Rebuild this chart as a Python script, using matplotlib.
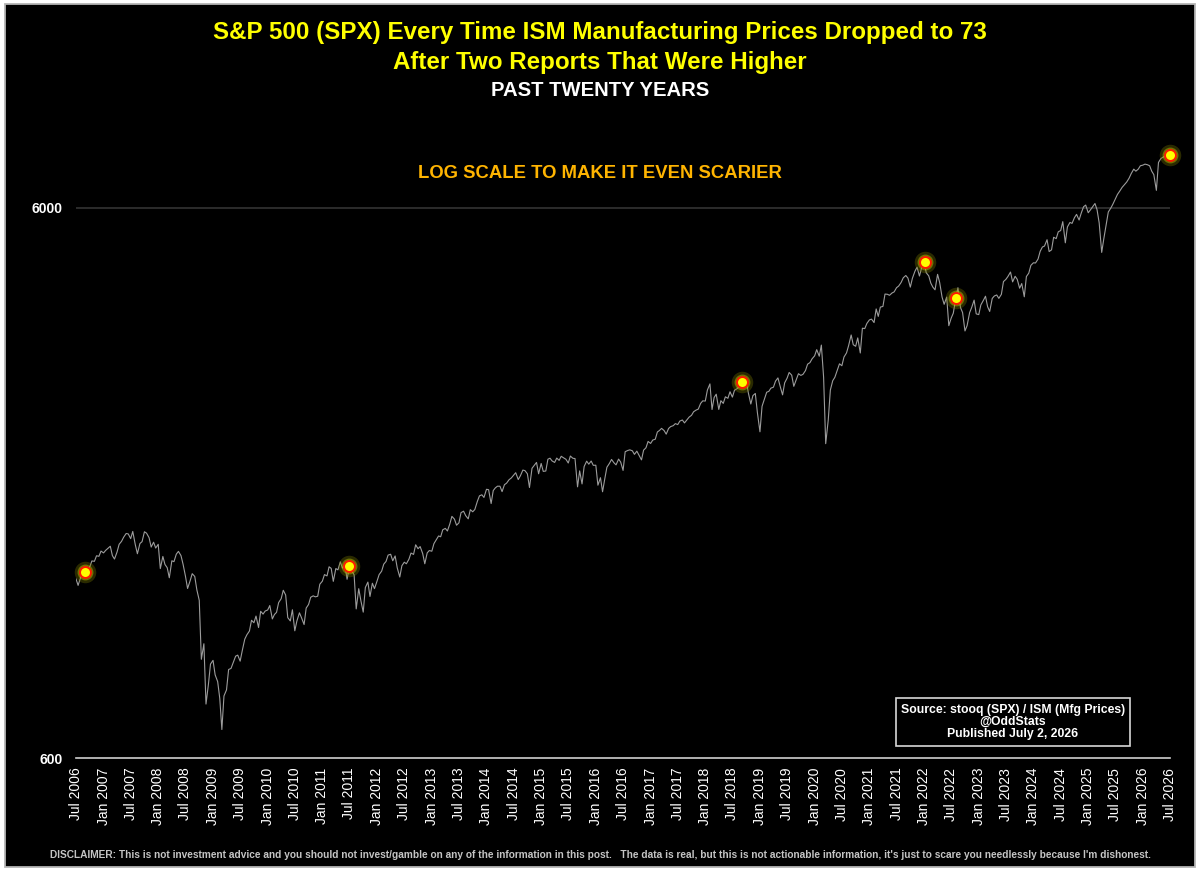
import matplotlib
matplotlib.use("Agg")
import matplotlib.pyplot as plt
from matplotlib.patches import Rectangle
from matplotlib.ticker import NullLocator
import pandas as pd

# S&P 500 levels, two per month (1st and mid-month)
spx_2006 = [1270, 1236, 1278, 1302, 1305, 1320, 1336, 1369, 1367, 1399, 1396, 1427]
spx_2007 = [1416, 1431, 1445, 1456, 1400, 1380, 1421, 1468, 1486, 1512, 1536, 1533,
            1503, 1549, 1465, 1411, 1473, 1484, 1547, 1538, 1509, 1451, 1481, 1445]
spx_2008 = [1468, 1326, 1395, 1349, 1331, 1276, 1370, 1365, 1409, 1425, 1400, 1350,
            1284, 1220, 1260, 1298, 1283, 1213, 1161, 907, 968, 752, 816, 889]
spx_2009 = [903, 850, 826, 770, 676, 778, 798, 869, 873, 893, 919, 923,
            900, 940, 987, 1005, 1021, 1068, 1057, 1087, 1036, 1109, 1096, 1110]
spx_2010 = [1115, 1136, 1074, 1094, 1104, 1150, 1169, 1211, 1187, 1080, 1065, 1116,
            1022, 1065, 1102, 1079, 1049, 1124, 1141, 1176, 1183, 1178, 1181, 1242]
spx_2011 = [1258, 1293, 1286, 1336, 1327, 1257, 1326, 1319, 1364, 1329, 1345, 1268,
            1339, 1316, 1292, 1120, 1219, 1160, 1105, 1225, 1253, 1180, 1247, 1219]
spx_2012 = [1258, 1293, 1312, 1351, 1366, 1403, 1408, 1370, 1398, 1330, 1280, 1342,
            1362, 1353, 1379, 1415, 1407, 1465, 1441, 1454, 1412, 1353, 1416, 1430]
spx_2013 = [1426, 1472, 1498, 1520, 1515, 1560, 1569, 1552, 1598, 1650, 1631, 1590,
            1606, 1676, 1686, 1655, 1633, 1697, 1682, 1698, 1757, 1798, 1806, 1786]
spx_2014 = [1848, 1845, 1741, 1838, 1859, 1872, 1872, 1830, 1884, 1896, 1924, 1937,
            1960, 1981, 1925, 1955, 2003, 1998, 1972, 1862, 2018, 2041, 2068, 1972]
spx_2015 = [2059, 1992, 1995, 2096, 2105, 2081, 2068, 2106, 2086, 2122, 2107, 2096,
            2063, 2124, 2104, 2102, 1867, 1996, 1890, 2033, 2079, 2053, 2080, 2043]
spx_2016 = [2044, 1880, 1940, 1829, 1932, 2027, 2060, 2094, 2065, 2047, 2097, 2071,
            2000, 2163, 2174, 2180, 2171, 2139, 2168, 2133, 2090, 2177, 2199, 2258]
spx_2017 = [2239, 2271, 2279, 2349, 2364, 2385, 2363, 2328, 2384, 2403, 2412, 2433,
            2423, 2459, 2470, 2440, 2472, 2500, 2519, 2557, 2575, 2585, 2648, 2676]
spx_2018 = [2674, 2800, 2873, 2581, 2714, 2752, 2582, 2678, 2648, 2722, 2705, 2780,
            2718, 2798, 2816, 2840, 2902, 2905, 2924, 2770, 2641, 2736, 2760, 2546]
spx_2019 = [2351, 2616, 2704, 2775, 2784, 2822, 2834, 2907, 2946, 2850, 2744, 2886,
            2942, 3014, 2980, 2844, 2926, 2998, 2977, 2990, 3038, 3120, 3141, 3191]
spx_2020 = [3231, 3316, 3226, 3380, 2954, 2237, 2470, 2800, 2912, 2953, 3044, 3125,
            3100, 3215, 3271, 3373, 3526, 3385, 3363, 3483, 3270, 3627, 3622, 3701]
spx_2021 = [3756, 3768, 3714, 3932, 3811, 3963, 3973, 4185, 4181, 4163, 4204, 4223,
            4298, 4327, 4395, 4480, 4523, 4474, 4308, 4471, 4605, 4683, 4513, 4668]
spx_2022 = [4796, 4577, 4516, 4380, 4306, 4260, 4545, 4392, 4132, 4009, 4132, 3666,
            3785, 3863, 4118, 4297, 3955, 3873, 3586, 3666, 3872, 3958, 4080, 3852]
spx_2023 = [3840, 3999, 4077, 4147, 3970, 3891, 4109, 4151, 4169, 4110, 4180, 4409,
            4450, 4505, 4589, 4404, 4508, 4450, 4288, 4373, 4137, 4503, 4568, 4719]
spx_2024 = [4770, 4766, 4846, 5005, 5096, 5117, 5254, 5000, 5036, 5308, 5278, 5431,
            5460, 5667, 5186, 5543, 5648, 5626, 5762, 5842, 5705, 5870, 6032, 6074]
spx_2025 = [5882, 5950, 6041, 6114, 5955, 5640, 4982, 5275, 5600, 5900, 6000, 6100,
            6230, 6350, 6450, 6540, 6620, 6690, 6800, 6930, 7060, 7000, 7060, 7160]
spx_2026 = [7180, 7210, 7190, 7160, 7000, 6900, 6460, 7260, 7380, 7420, 7460, 7480, 7500]

# ISM prices signal dates (dots)
signal_dates = ["2006-09-01", "2011-07-01", "2018-09-04", "2022-01-04", "2022-08-01", "2026-06-28"]
signal_values = [1305, 1339, 2896, 4793, 4118, 7490]

tick_dates = pd.date_range("2006-07-01", "2026-07-01", freq="6MS")
tick_labels = [d.strftime("%b %Y") for d in tick_dates]

TITLE_1 = "S&P 500 (SPX) Every Time ISM Manufacturing Prices Dropped to 73"
TITLE_2 = "After Two Reports That Were Higher"
SUBTITLE = "PAST TWENTY YEARS"
NOTE = "LOG SCALE TO MAKE IT EVEN SCARIER"
SOURCE = "Source: stooq (SPX) / ISM (Mfg Prices)\n@OddStats\nPublished July 2, 2026"
DISCLAIMER = ("DISCLAIMER: This is not investment advice and you should not invest/gamble on any of the "
              "information in this post.   The data is real, but this is not actionable information, "
              "it's just to scare you needlessly because I'm dishonest.")

plt.rcParams["font.family"] = ["Liberation Sans", "DejaVu Sans"]


def main() -> None:
    values = (spx_2006 + spx_2007 + spx_2008 + spx_2009 + spx_2010 + spx_2011 + spx_2012
              + spx_2013 + spx_2014 + spx_2015 + spx_2016 + spx_2017 + spx_2018 + spx_2019
              + spx_2020 + spx_2021 + spx_2022 + spx_2023 + spx_2024 + spx_2025 + spx_2026)
    dates = pd.date_range("2006-07-01", periods=len(values), freq="SMS")

    fig = plt.figure(figsize=(12, 8.71), dpi=100, facecolor="white")
    fig.patches.append(Rectangle((4.5 / 1200, 4.5 / 871), 1190 / 1200, 862 / 871,
                                 transform=fig.transFigure, facecolor="black",
                                 edgecolor="#b4b4b4", lw=1.3, zorder=-10))

    ax = fig.add_axes([76 / 1200, 1 - 758 / 871, 1094 / 1200, 618 / 871])
    ax.set_facecolor("none")
    ax.plot(dates, values, color="#9c9c9c", lw=0.8)

    sd = pd.to_datetime(signal_dates)
    ax.scatter(sd, signal_values, s=240, color="#7a7a00", alpha=0.35, lw=0, zorder=3, clip_on=False)
    ax.scatter(sd, signal_values, s=130, color="#c8c800", alpha=0.45, lw=0, zorder=3, clip_on=False)
    ax.scatter(sd, signal_values, s=62, facecolor="#ffff00", edgecolor="#ff1a00",
               lw=1.4, zorder=4, clip_on=False)

    ax.set_yscale("log")
    ax.set_ylim(600, 600 * 10 ** (618 / 550))
    ax.set_yticks([600, 6000])
    ax.set_yticklabels(["600", "6000"], color="white", fontweight="bold", fontsize=10)
    ax.yaxis.set_minor_locator(NullLocator())
    ax.axhline(6000, color="#333333", lw=1.2, zorder=1)

    ax.set_xlim(tick_dates[0], tick_dates[-1])
    ax.set_xticks(tick_dates)
    ax.set_xticklabels(tick_labels, rotation=90, color="white", fontsize=10)
    ax.tick_params(axis="x", length=0, pad=7)
    ax.tick_params(axis="y", length=0, pad=9.4)

    for side in ["top", "right", "left"]:
        ax.spines[side].set_visible(False)
    ax.spines["bottom"].set_color("#cfcfcf")
    ax.spines["bottom"].set_linewidth(1.2)

    fig.text(0.5, 1 - 33 / 871, TITLE_1, ha="center", va="center", color="#ffff00",
             fontsize=17.4, fontweight="bold")
    fig.text(0.5, 1 - 62 / 871, TITLE_2, ha="center", va="center", color="#ffff00",
             fontsize=17.4, fontweight="bold")
    fig.text(0.5, 1 - 90 / 871, SUBTITLE, ha="center", va="center", color="white",
             fontsize=14.6, fontweight="bold")
    fig.text(0.5, 1 - 173 / 871, NOTE, ha="center", va="center", color="#ffb400",
             fontsize=13.3, fontweight="bold")
    fig.text(1013 / 1200, 1 - 722 / 871, SOURCE, ha="center", va="center", color="white",
             fontsize=8.8, fontweight="bold", linespacing=1.05,
             bbox=dict(boxstyle="square,pad=0.42", facecolor="black", edgecolor="#d8d8d8", lw=1.2))
    fig.text(0.5, 1 - 855 / 871, DISCLAIMER, ha="center", va="center", color="#c4c4c4",
             fontsize=7.27, fontweight="bold")

    fig.savefig("out.png", dpi=100, facecolor="white")


if __name__ == "__main__":
    main()
